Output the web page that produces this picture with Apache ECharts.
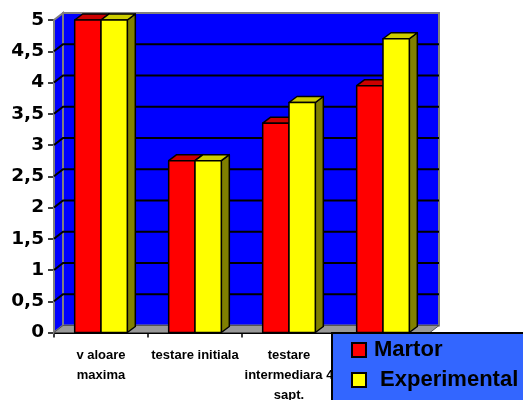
<!DOCTYPE html>
<html>
<head>
<meta charset="utf-8">
<script src="https://cdn.jsdelivr.net/npm/echarts@6/dist/echarts.min.js"></script>
<style>
  html, body { margin: 0; padding: 0; background: #ffffff; }
  #chart { width: 523px; height: 400px; }
</style>
</head>
<body>
<div id="chart"></div>
<script>
// Categories (test moments) and the two groups' values
const categories = ['v aloare\nmaxima', 'testare initiala', 'testare\nintermediara 4\nsapt.', 'testare finala'];
const martor = [5, 2.75, 3.35, 3.95];
const experimental = [5, 2.75, 3.68, 4.7];
const yTickValues = [0, 0.5, 1, 1.5, 2, 2.5, 3, 3.5, 4, 4.5, 5];
const yTickLabels = ['0', '0,5', '1', '1,5', '2', '2,5', '3', '3,5', '4', '4,5', '5'];

// 3D look: depth offsets of the walls and of the columns
const WALL_DX = 9, WALL_DY = -7;
const BAR_DX = 8, BAR_DY = -6;
const BAR_FRACTION = 0.28;

const FONT = '"Liberation Sans", Arial, sans-serif';

function wallRenderer(params, api) {
  const cs = params.coordSys;
  const x0 = cs.x, x1 = cs.x + cs.width;
  const yTop = cs.y, yBot = cs.y + cs.height;
  const children = [];
  // back wall
  children.push({
    type: 'polygon',
    shape: { points: [[x0 + WALL_DX, yTop + WALL_DY], [x1 + WALL_DX, yTop + WALL_DY], [x1 + WALL_DX, yBot + WALL_DY], [x0 + WALL_DX, yBot + WALL_DY]] },
    style: { fill: '#0000FF', stroke: '#808080', lineWidth: 2 }
  });
  // left side wall
  children.push({
    type: 'polygon',
    shape: { points: [[x0, yTop], [x0 + WALL_DX, yTop + WALL_DY], [x0 + WALL_DX, yBot + WALL_DY], [x0, yBot]] },
    style: { fill: '#0000FF', stroke: '#808080', lineWidth: 2 }
  });
  // gridlines on side and back wall
  yTickValues.forEach(function (v) {
    if (v === 0 || v === 5) return;
    const y = api.coord([0, v])[1];
    children.push({
      type: 'polyline',
      shape: { points: [[x0, y], [x0 + WALL_DX, y + WALL_DY], [x1 + WALL_DX, y + WALL_DY]] },
      style: { stroke: '#000000', lineWidth: 2, fill: null }
    });
  });
  // floor
  children.push({
    type: 'polygon',
    shape: { points: [[x0, yBot], [x1, yBot], [x1 + WALL_DX, yBot + WALL_DY], [x0 + WALL_DX, yBot + WALL_DY]] },
    style: { fill: '#999999', stroke: '#555555', lineWidth: 1 }
  });
  return { type: 'group', children: children };
}

function makeBarRenderer(side, front, top, dark) {
  return function (params, api) {
    const idx = api.value(0);
    const val = api.value(1);
    const base = api.coord([idx, 0]);
    const peak = api.coord([idx, val]);
    const band = api.size([1, 0])[0];
    const bw = band * BAR_FRACTION;
    const xl = side < 0 ? base[0] - bw : base[0];
    const xr = xl + bw;
    const yt = peak[1], yb = base[1];
    const stroke = { stroke: '#000000', lineWidth: 1.5, lineJoin: 'round' };
    return {
      type: 'group',
      children: [
        { type: 'polygon', shape: { points: [[xr, yt], [xr + BAR_DX, yt + BAR_DY], [xr + BAR_DX, yb + BAR_DY], [xr, yb]] },
          style: Object.assign({ fill: dark }, stroke) },
        { type: 'polygon', shape: { points: [[xl, yt], [xr, yt], [xr + BAR_DX, yt + BAR_DY], [xl + BAR_DX, yt + BAR_DY]] },
          style: Object.assign({ fill: top }, stroke) },
        { type: 'rect', shape: { x: xl, y: yt, width: bw, height: yb - yt },
          style: Object.assign({ fill: front }, stroke) }
      ]
    };
  };
}

const chart = echarts.init(document.getElementById('chart'));
chart.setOption({
  animation: false,
  backgroundColor: '#ffffff',
  grid: { left: 54, right: 93, top: 20, bottom: 67.5, containLabel: false, outerBoundsMode: 'none' },
  legend: {
    orient: 'vertical',
    left: 332,
    top: 333,
    width: 200,
    height: 120,
    padding: [6, 40, 30, 19],
    itemGap: 8,
    itemWidth: 14,
    itemHeight: 14,
    backgroundColor: '#3366FF',
    borderColor: '#000000',
    borderWidth: 2,
    borderRadius: 0,
    selectedMode: false,
    formatter: function (name) { return name === 'Experimental' ? ' ' + name : name; },
    textStyle: { fontFamily: FONT, fontWeight: 'bold', fontSize: 22, lineHeight: 22, color: '#000000', padding: [0, 0, 0, 3] },
    data: [
      { name: 'Martor', icon: 'rect', itemStyle: { color: '#FF0000', borderColor: '#000000', borderWidth: 2 } },
      { name: 'Experimental', icon: 'rect', itemStyle: { color: '#FFFF00', borderColor: '#000000', borderWidth: 2 } }
    ]
  },
  xAxis: {
    type: 'category',
    data: categories,
    boundaryGap: true,
    axisLine: { show: true, lineStyle: { color: '#000000', width: 2 } },
    axisTick: { show: true, length: 5, lineStyle: { color: '#000000', width: 1.5 } },
    axisLabel: { interval: 0, margin: 13, fontFamily: FONT, fontWeight: 'bold', fontSize: 13, lineHeight: 20, color: '#000000' },
    splitLine: { show: false }
  },
  yAxis: {
    type: 'value',
    min: 0,
    max: 5,
    interval: 0.5,
    axisLine: { show: true, lineStyle: { color: '#000000', width: 2 } },
    axisTick: { show: true, length: 6, lineStyle: { color: '#000000', width: 1.5 } },
    axisLabel: {
      margin: 10,
      fontFamily: '"DejaVu Sans", sans-serif',
      fontWeight: 'bold',
      fontSize: 18.5,
      color: '#000000',
      formatter: function (value, index) { return yTickLabels[index]; }
    },
    splitLine: { show: false }
  },
  series: [
    {
      name: 'walls',
      type: 'custom',
      silent: true,
      z: 1,
      renderItem: wallRenderer,
      data: [[0, 0]]
    },
    {
      name: 'Martor',
      type: 'custom',
      z: 2,
      itemStyle: { color: '#FF0000' },
      renderItem: makeBarRenderer(-1, '#FF0000', '#CC0000', '#800000'),
      data: martor.map(function (v, i) { return [i, v]; })
    },
    {
      name: 'Experimental',
      type: 'custom',
      z: 3,
      itemStyle: { color: '#FFFF00' },
      renderItem: makeBarRenderer(1, '#FFFF00', '#CCCC00', '#808000'),
      data: experimental.map(function (v, i) { return [i, v]; })
    }
  ]
});
</script>
</body>
</html>
